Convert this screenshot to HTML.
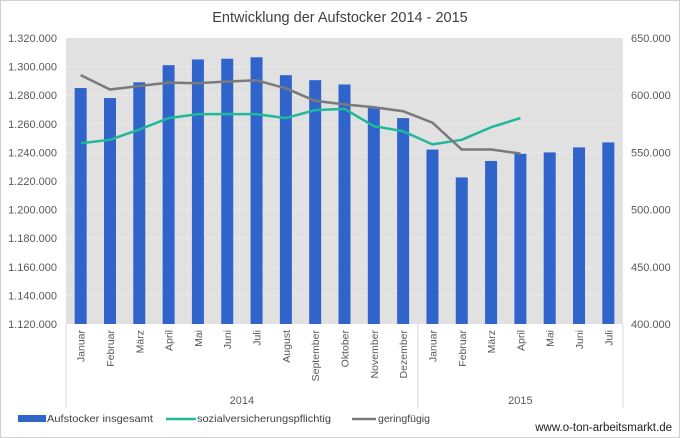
<!DOCTYPE html>
<html><head><meta charset="utf-8"><style>
body{margin:0;background:#fff;}
svg{display:block;font-family:"Liberation Sans",sans-serif;}
</style></head><body>
<svg id="c" width="680" height="438">
<rect x="0.5" y="0.5" width="679" height="437" fill="#fff" stroke="#d0d0d0"/>
<text x="340" y="22" text-anchor="middle" font-size="14.5" fill="#404040">Entwicklung der Aufstocker 2014 - 2015</text>
<rect x="66" y="38" width="557" height="286" fill="#e1e1e1"/>
<g id="grid"></g><g id="bars"></g><g id="lines"></g><g id="axes"></g>
<g>
<rect x="18" y="415" width="28" height="7" fill="#3164cb"/>
<text x="47" y="422" font-size="10.5" textLength="106" lengthAdjust="spacingAndGlyphs" fill="#404040">Aufstocker insgesamt</text>
<line x1="166" y1="419" x2="196" y2="419" stroke="#20b89a" stroke-width="2.5"/>
<text x="197" y="422" font-size="10.5" textLength="134" lengthAdjust="spacingAndGlyphs" fill="#404040">sozialversicherungspflichtig</text>
<line x1="352" y1="419" x2="376" y2="419" stroke="#7a7a7a" stroke-width="2.5"/>
<text x="378" y="422" font-size="10.5" textLength="52" lengthAdjust="spacingAndGlyphs" fill="#404040">geringfügig</text>
</g>
<text x="672" y="431" text-anchor="end" font-size="11.5" fill="#202020">www.o-ton-arbeitsmarkt.de</text>
</svg>
<script>
const months = ["Januar","Februar","März","April","Mai","Juni","Juli","August","September","Oktober","November","Dezember","Januar","Februar","März","April","Mai","Juni","Juli"];
const years = ["2014","2015"];
const yearCounts = [12,7];
const total = [1285000,1278000,1289000,1301000,1305000,1305500,1306500,1294000,1290500,1287500,1271000,1264000,1242000,1222500,1234000,1239000,1240000,1243500,1247000];
const sv = [558000,561000,570000,580000,583500,583500,583500,580000,587000,588000,573000,568500,557000,561000,572000,580000];
const gf = [617500,605000,608000,611000,610500,612000,613000,606000,595000,592000,589500,586000,576000,552500,552500,549000];
const leftTicks = [1120000,1140000,1160000,1180000,1200000,1220000,1240000,1260000,1280000,1300000,1320000];
const rightTicks = [400000,450000,500000,550000,600000,650000];

const NS="http://www.w3.org/2000/svg";
const X0=66,X1=623,Y0=324,Y1=38;
const slot=(X1-X0)/months.length;
const xc=i=>X0+slot*(i+0.5);
const yL=v=>Y0-(v-1120000)/200000*(Y0-Y1);
const yR=v=>Y0-(v-400000)/250000*(Y0-Y1);
const fmt=v=>v.toLocaleString("de-DE");
function mk(tag,attrs,parent,txt){const e=document.createElementNS(NS,tag);for(const k in attrs)e.setAttribute(k,attrs[k]);if(txt!==undefined)e.textContent=txt;document.getElementById(parent).appendChild(e);return e;}

leftTicks.forEach((t,i)=>{
  const y=yL(t);
  if(i>0&&i<leftTicks.length-1){const g=mk("line",{x1:X0,x2:X1,y1:y,y2:y,stroke:"#efefef","stroke-dasharray":"2,2","stroke-width":1},"grid");
  
  }
  const l=mk("text",{x:57,y:y+4,"text-anchor":"end","font-size":11,fill:"#595959"},"axes",fmt(t));
  
  
});
rightTicks.forEach(t=>{
  const l=mk("text",{x:631,y:yR(t)+4,"font-size":11,fill:"#595959"},"axes",fmt(t));
  
  
});
total.forEach((v,i)=>{
  const b=mk("rect",{x:xc(i)-6,y:yL(v),width:12,height:Y0-yL(v),fill:"#3164cb"},"bars");
  
  
});
function line(arr,col,name){
  const p=mk("polyline",{points:arr.map((v,i)=>xc(i)+","+yR(v)).join(" "),fill:"none",stroke:col,"stroke-width":2.5,"stroke-linejoin":"round"},"lines");
  
  
}
line(sv,"#20b89a","line-sozialversicherungspflichtig");
line(gf,"#7a7a7a","line-geringfuegig");
months.forEach((m,i)=>{
  const t=mk("text",{transform:`translate(${xc(i)+4},330) rotate(-90)`,"text-anchor":"end","font-size":10.5,fill:"#595959"},"axes",m);
  
  
});
let start=0;
const sep=x=>{const s=mk("line",{x1:x,x2:x,y1:Y0,y2:408,stroke:"#d9d9d9"},"axes");
  
  };
sep(X0);
years.forEach((y,k)=>{
  const a=X0+start*slot,b=X0+(start+yearCounts[k])*slot;
  sep(b);
  const t=mk("text",{x:(a+b)/2,y:404,"text-anchor":"middle","font-size":11,fill:"#595959"},"axes",y);
  
  
  start+=yearCounts[k];
});
</script>
</body></html>
